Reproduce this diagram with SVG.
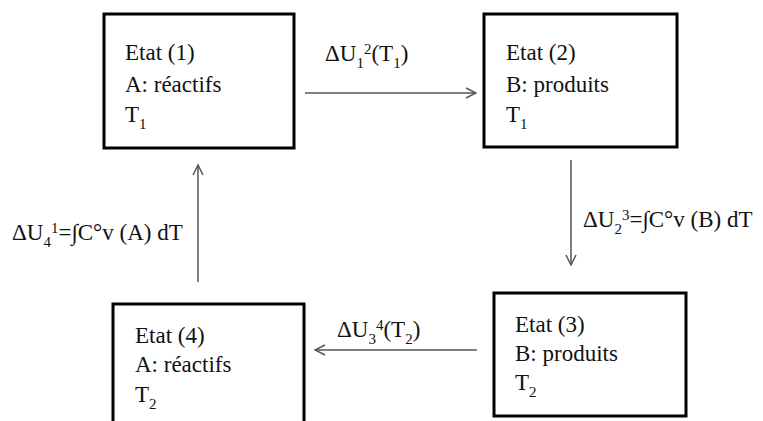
<svg xmlns="http://www.w3.org/2000/svg" width="763" height="421" viewBox="0 0 763 421">
<style>
.box{fill:#fff;stroke:#000;stroke-width:3}
.t{font-family:'Liberation Serif','DejaVu Serif','Noto Serif',serif;font-size:23px;fill:#111}
.sub{font-size:15px}
.conn{stroke:#555;stroke-width:1.5;fill:none;marker-end:url(#ah)}
</style>
<defs>
<marker id="ah" viewBox="0 0 12 12" refX="11" refY="6" markerWidth="12" markerHeight="12" markerUnits="userSpaceOnUse" orient="auto">
<path d="M1,1 L11,6 L1,11" fill="none" stroke="#555" stroke-width="1.5"/>
</marker>
</defs>
<rect width="763" height="421" fill="#fff"/>
<g id="connectors">
<line class="conn" x1="305" y1="93" x2="476" y2="93"/>
<line class="conn" x1="571" y1="160" x2="571" y2="265"/>
<line class="conn" x1="477" y1="350" x2="315" y2="350"/>
<line class="conn" x1="198" y1="282" x2="198" y2="165"/>
<text class="t" font-family="Liberation Serif, serif" x="325" y="61">ΔU<tspan class="sub" dy="7">1</tspan><tspan class="sub" dy="-14">2</tspan><tspan dy="7">(T</tspan><tspan class="sub" dy="7">1</tspan><tspan dy="-7">)</tspan></text>
<text class="t" font-family="Liberation Serif, serif" x="583" y="227">ΔU<tspan class="sub" dy="7">2</tspan><tspan class="sub" dy="-14">3</tspan><tspan dy="7">=∫C°v (B) dT</tspan></text>
<text class="t" font-family="Liberation Serif, serif" x="337" y="337">ΔU<tspan class="sub" dy="7">3</tspan><tspan class="sub" dy="-14">4</tspan><tspan dy="7">(T</tspan><tspan class="sub" dy="7">2</tspan><tspan dy="-7">)</tspan></text>
<text class="t" font-family="Liberation Serif, serif" x="12" y="240">ΔU<tspan class="sub" dy="7">4</tspan><tspan class="sub" dy="-14">1</tspan><tspan dy="7">=∫C°v (A) dT</tspan></text>
</g>
<g id="etat1" class="t">
<rect class="box" x="104" y="14" width="190" height="134"/>
<text x="125" y="60">Etat (1)</text>
<text x="125" y="92">A: réactifs</text>
<text x="125" y="122">T<tspan class="sub" dy="7">1</tspan></text>
</g>
<g id="etat2" class="t">
<rect class="box" x="484" y="14" width="193" height="133"/>
<text x="506" y="60">Etat (2)</text>
<text x="506" y="92">B: produits</text>
<text x="506" y="122">T<tspan class="sub" dy="7">1</tspan></text>
</g>
<g id="etat3" class="t">
<rect class="box" x="494" y="293" width="192" height="123"/>
<text x="515" y="332">Etat (3)</text>
<text x="515" y="361">B: produits</text>
<text x="515" y="390">T<tspan class="sub" dy="7">2</tspan></text>
</g>
<g id="etat4" class="t">
<rect class="box" x="113" y="304" width="191" height="130"/>
<text x="135" y="343">Etat (4)</text>
<text x="135" y="372">A: réactifs</text>
<text x="135" y="402">T<tspan class="sub" dy="7">2</tspan></text>
</g>
</svg>
